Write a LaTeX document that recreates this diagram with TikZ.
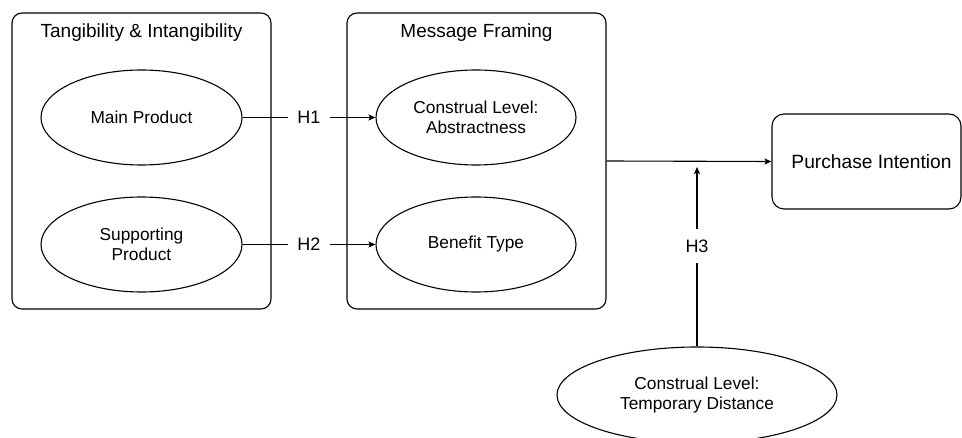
\documentclass[tikz,border=0pt]{standalone}
\usepackage{fontspec}
\setmainfont{Liberation Sans}
\usetikzlibrary{shapes.geometric,arrows.meta}
\begin{document}
\begin{tikzpicture}[x=1pt,y=-1pt,
  groupbox/.style={draw, line width=1.1pt, rounded corners=10pt, minimum width=259pt, minimum height=296pt, inner sep=0pt},
  construct/.style={draw, ellipse, line width=1.1pt, inner sep=0pt, minimum width=201pt, minimum height=95pt,
    font=\fontsize{17.3}{20}\selectfont, align=center},
  grouptitle/.style={font=\fontsize{19}{22}\selectfont, anchor=base, inner sep=0pt},
  hyp/.style={font=\fontsize{18}{20}\selectfont, inner xsep=9pt, inner ysep=10pt},
  link/.style={line width=1.1pt},
  arrowlink/.style={link, -{Stealth[length=7pt,width=6pt,inset=1.5pt]}}
]
\useasboundingbox (0,0) rectangle (962,438);

% grouping boxes with their titles
\node[groupbox] (tg) at (141.5,161) {};
\node[grouptitle] (tgt) at (141.5,37.5) {Tangibility \& Intangibility};
\node[groupbox] (mf) at (476.5,161) {};
\node[grouptitle] (mft) at (476.5,37.5) {Message Framing};

% constructs
\node[construct] (main) at (141.5,117.5) {Main Product};
\node[construct] (supp) at (141.5,244.5) {Supporting\\Product};
\node[construct, minimum width=200pt] (abs) at (476,117.5) {Construal Level:\\Abstractness};
\node[construct, minimum width=200pt] (ben) at (476,244.5) {Benefit Type};
\node[construct, minimum width=280pt, minimum height=96pt] (td) at (697,395) {Construal Level:\\Temporary Distance};
\node[draw, line width=1.1pt, rounded corners=12pt, minimum width=189pt, minimum height=95pt] (pi) at (866.5,161.5) {};
\node[font=\fontsize{19.2}{22}\selectfont, inner sep=0pt] (pit) at (871.5,161.5) {Purchase Intention};

% hypothesis labels
\node[hyp] (h1) at (309,117.5) {H1};
\node[hyp] (h2) at (309,244.5) {H2};
\node[hyp] (h3) at (697,246) {H3};
\coordinate (meet) at (697,167);

% paths
\draw[link] (main.east) -- (h1.west);
\draw[arrowlink] (h1.east) -- (abs.west);
\draw[link] (supp.east) -- (h2.west);
\draw[arrowlink] (h2.east) -- (ben.west);
\draw[arrowlink] (mf.east) -- (pi.west);
\draw[link] (td.north) -- (h3.south);
\draw[arrowlink] (h3.north) -- (meet);
\end{tikzpicture}
\end{document}
